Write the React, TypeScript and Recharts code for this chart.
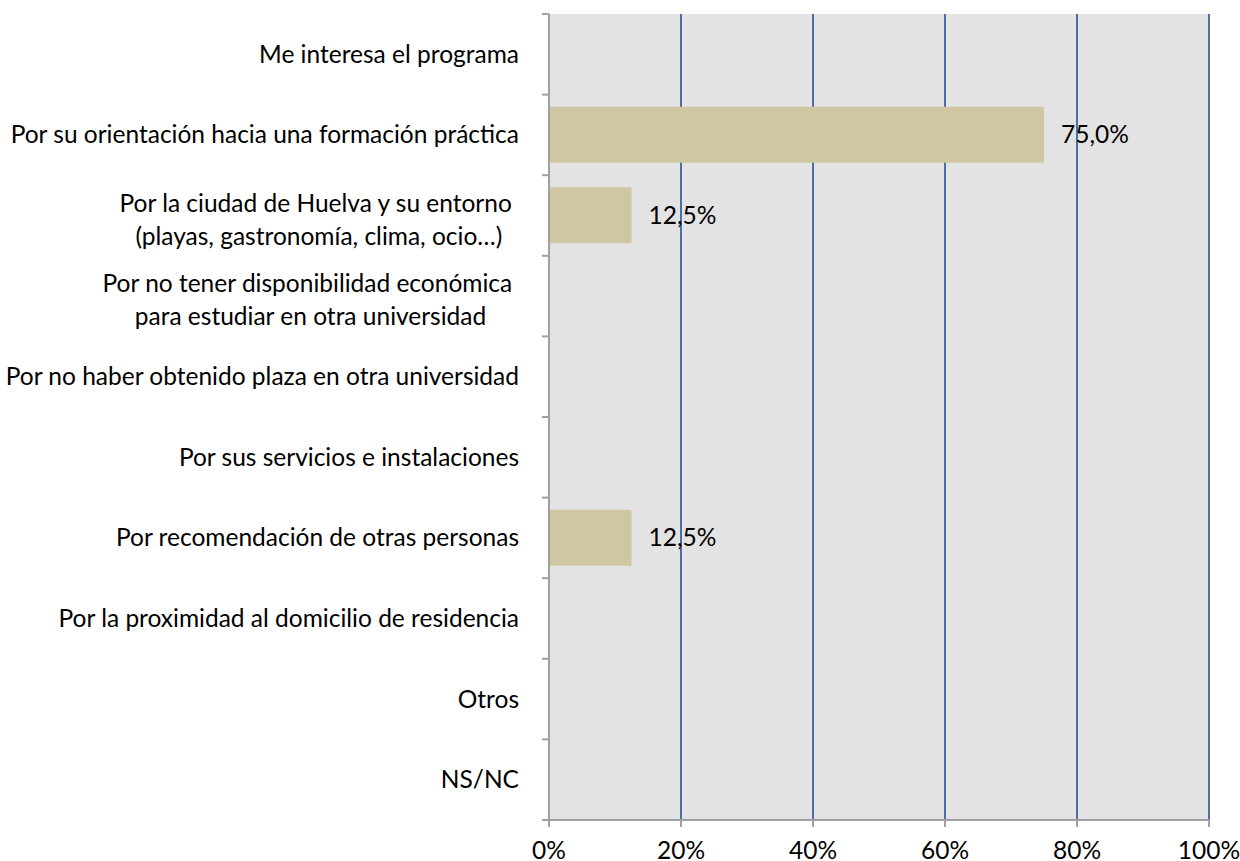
import React from 'react';
import { BarChart, Bar, XAxis, YAxis, CartesianGrid, LabelList } from 'recharts';

const categories = [
  'Me interesa el programa',
  'Por su orientación hacia una formación práctica',
  'Por la ciudad de Huelva y su entorno \n(playas, gastronomía, clima, ocio…)',
  'Por no tener disponibilidad económica \npara estudiar en otra universidad',
  'Por no haber obtenido plaza en otra universidad',
  'Por sus servicios e instalaciones',
  'Por recomendación de otras personas',
  'Por la proximidad al domicilio de residencia',
  'Otros',
  'NS/NC',
];
const values = [0, 75, 12.5, 0, 0, 0, 12.5, 0, 0, 0];
const xTicks = [0, 20, 40, 60, 80, 100];

const data = categories.map((name, i) => ({ name, value: values[i] }));

const W = 1240;
const H = 861;
const TOP = 14;
const AXIS_W = 549;
const RIGHT = 31;
const XAXIS_H = 41;
const BOTTOM = H - XAXIS_H;
const BAND = (BOTTOM - TOP) / categories.length;
const FONT = 'Lato';
const FS = 24.5;
const AXIS_COLOR = '#a0a0a0';

let ctx: CanvasRenderingContext2D | null = null;
function measure(t: string): number {
  if (!ctx) {
    const c = document.createElement('canvas');
    ctx = c.getContext('2d');
  }
  if (!ctx) return t.length * FS * 0.48;
  ctx.font = `${FS}px ${FONT}`;
  return ctx.measureText(t).width;
}

const CatTick = (props: any) => {
  const { x, y, payload, index } = props;
  const lines: string[] = String(payload.value).split('\n');
  const axisX = AXIS_W;
  const tickTop = y - BAND / 2;
  const isLast = index === categories.length - 1;
  let textEls: React.ReactNode;
  if (lines.length === 1) {
    textEls = (
      <text x={x} y={y} textAnchor="end" dy="0.35em" fontSize={FS} fontFamily={FONT} fill="#000">
        {lines[0]}
      </text>
    );
  } else {
    const maxW = Math.max(...lines.map((l) => measure(l)));
    const cx = x - maxW / 2;
    const lh = 33;
    const start = y - ((lines.length - 1) * lh) / 2 + 4;
    textEls = lines.map((l, i) => (
      <text key={i} x={cx} y={start + i * lh} textAnchor="middle" dy="0.35em" fontSize={FS} fontFamily={FONT} fill="#000" style={{ whiteSpace: 'pre' }}>
        {l}
      </text>
    ));
  }
  return (
    <g>
      <line x1={axisX - 7} x2={axisX} y1={tickTop} y2={tickTop} stroke={AXIS_COLOR} strokeWidth={2} />
      {isLast && (
        <line x1={axisX - 7} x2={axisX} y1={y + BAND / 2} y2={y + BAND / 2} stroke={AXIS_COLOR} strokeWidth={2} />
      )}
      {textEls}
    </g>
  );
};

const BarLabel = (props: any) => {
  const { x, y, width, height, value } = props;
  if (!value) return null;
  const txt = `${Number(value).toFixed(1).replace('.', ',')}%`;
  return (
    <text x={x + width + 17} y={y + height / 2} dy="0.35em" fontSize={FS} fontFamily={FONT} fill="#000">
      {txt}
    </text>
  );
};

export default function App() {
  return (
    <div style={{ position: 'absolute', left: 0, top: 0, width: W, height: H, background: '#fff' }}>
      <BarChart
        width={W}
        height={H}
        data={data}
        layout="vertical"
        margin={{ top: TOP, right: RIGHT, bottom: 0, left: 0 }}
        barCategoryGap="15%"
      >
        <CartesianGrid horizontal={false} stroke="#4a6fa8" strokeWidth={2} fill="#e3e3e3" fillOpacity={1} />
        <XAxis
          type="number"
          domain={[0, 100]}
          ticks={xTicks}
          interval={0}
          tickFormatter={(v: number) => `${v}%`}
          height={XAXIS_H}
          tickSize={7}
          tickMargin={15}
          axisLine={{ stroke: AXIS_COLOR, strokeWidth: 2 }}
          tickLine={{ stroke: AXIS_COLOR, strokeWidth: 2 }}
          tick={{ fill: '#000', fontSize: FS, fontFamily: FONT }}
        />
        <YAxis
          type="category"
          dataKey="name"
          width={AXIS_W}
          interval={0}
          tickSize={7}
          tickMargin={23}
          tickLine={false}
          axisLine={{ stroke: AXIS_COLOR, strokeWidth: 2 }}
          tick={<CatTick />}
        />
        <Bar dataKey="value" fill="#cfc7a3" isAnimationActive={false}>
          <LabelList dataKey="value" content={<BarLabel />} />
        </Bar>
      </BarChart>
    </div>
  );
}
